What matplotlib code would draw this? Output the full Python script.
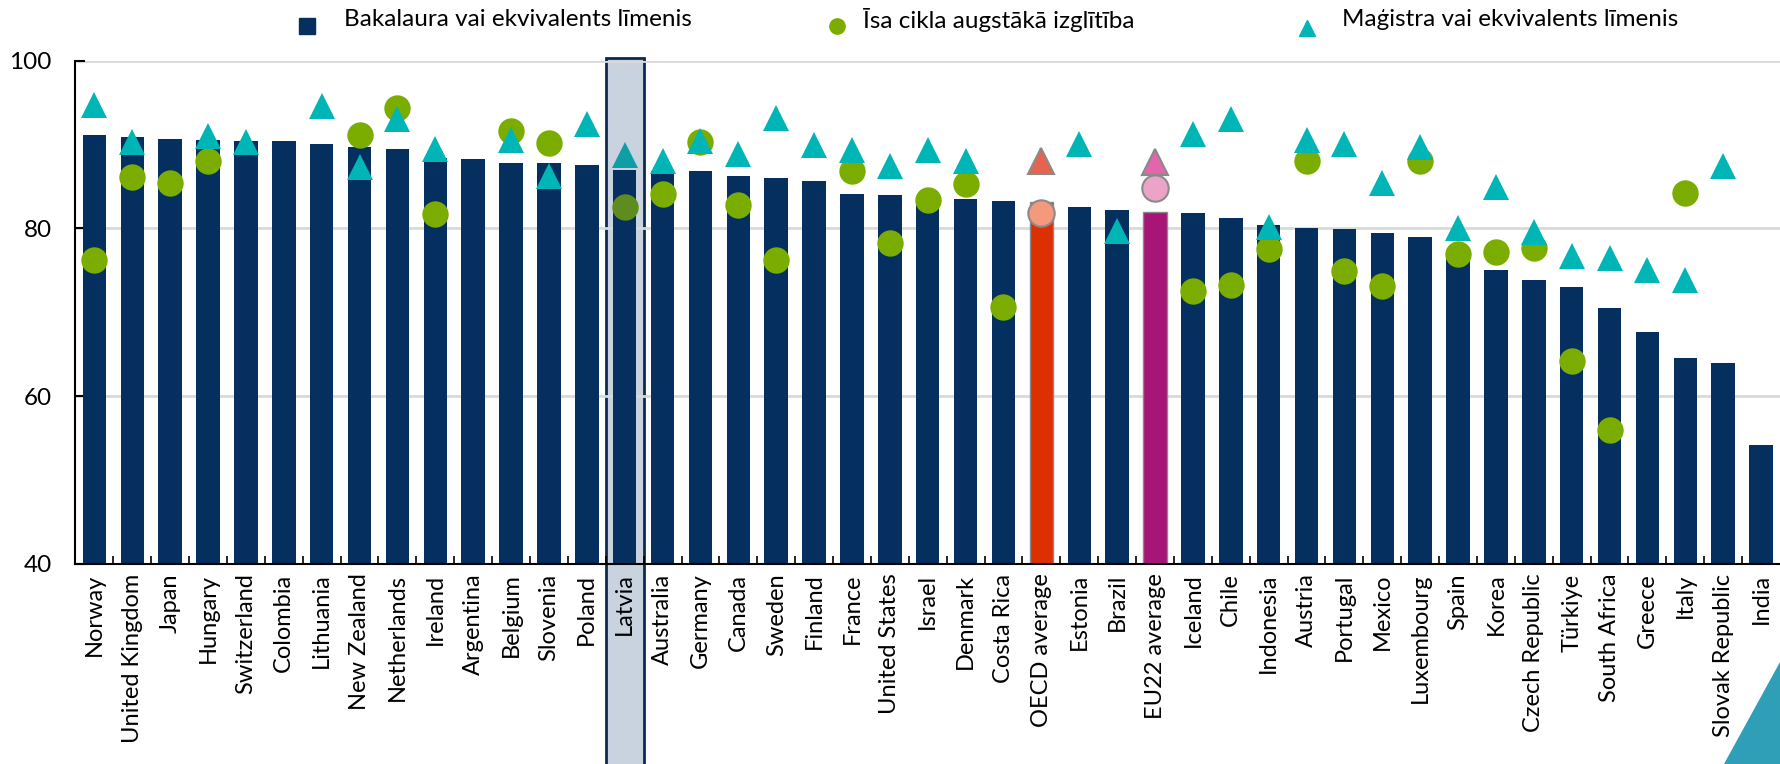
import numpy as np
import matplotlib.pyplot as plt
from matplotlib.lines import Line2D
from matplotlib.patches import Rectangle, Polygon
from matplotlib.transforms import blended_transform_factory

plt.rcParams['font.family'] = ['Lato', 'DejaVu Sans']

countries = ['Norway', 'United Kingdom', 'Japan', 'Hungary', 'Switzerland', 'Colombia',
             'Lithuania', 'New Zealand', 'Netherlands', 'Ireland', 'Argentina', 'Belgium',
             'Slovenia', 'Poland', 'Latvia', 'Australia', 'Germany', 'Canada', 'Sweden',
             'Finland', 'France', 'United States', 'Israel', 'Denmark', 'Costa Rica',
             'OECD average', 'Estonia', 'Brazil', 'EU22 average', 'Iceland', 'Chile',
             'Indonesia', 'Austria', 'Portugal', 'Mexico', 'Luxembourg', 'Spain', 'Korea',
             'Czech Republic', 'Türkiye', 'South Africa', 'Greece', 'Italy',
             'Slovak Republic', 'India']

nan = np.nan
bachelor = [91.1, 90.9, 90.7, 90.5, 90.4, 90.4, 90.1, 89.7, 89.5, 88.4, 88.3, 87.8,
            87.8, 87.6, 87.0, 86.9, 86.8, 86.2, 86.0, 85.6, 84.1, 84.0, 83.8, 83.5, 83.3,
            83.2, 82.5, 82.2, 82.0, 81.9, 81.2, 80.4, 80.1, 79.9, 79.4, 79.0, 77.2, 75.1,
            73.9, 73.0, 70.5, 67.6, 64.5, 63.9, 54.2]
short_cycle = [76.2, 86.1, 85.4, 88.1, nan, nan, nan, 91.1, 94.4, 81.7, nan, 91.6,
               90.2, nan, 82.5, 84.1, 90.3, 82.8, 76.2, nan, 86.8, 78.3, 83.4, 85.3, 70.6,
               81.9, nan, nan, 84.8, 72.5, 73.2, 77.5, 88.0, 74.9, 73.1, 88.0, 76.9, 77.2,
               77.7, 64.2, 56.0, nan, 84.2, nan, nan]
master = [94.7, 90.3, nan, 91.0, 90.3, nan, 94.6, 87.3, 93.1, 89.5, nan, 90.5,
          86.2, 92.5, 88.7, 88.0, 90.4, 88.9, 93.2, 89.9, 89.3, 87.5, 89.3, 88.0, nan,
          88.0, 90.1, 79.7, 87.9, 91.3, 93.0, 80.2, 90.5, 90.1, 85.4, 89.7, 80.0, 84.9,
          79.6, 76.7, 76.5, 75.0, 73.9, 87.5, nan]

legend_labels = ['Bakalaura vai ekvivalents līmenis', 'Īsa cikla augstākā izglītība',
                 'Maģistra vai ekvivalents līmenis']

navy = '#042f5f'
green = '#7aad00'
teal = '#00b5b5'

x = np.arange(len(countries))
bar_col = [navy] * len(countries)
circ_col = [green] * len(countries)
tri_col = [teal] * len(countries)
i_oecd = countries.index('OECD average')
i_eu = countries.index('EU22 average')
i_lv = countries.index('Latvia')
bar_col[i_oecd], circ_col[i_oecd], tri_col[i_oecd] = '#dc2f02', '#f4997b', '#e5634f'
bar_col[i_eu], circ_col[i_eu], tri_col[i_eu] = '#a71677', '#eba4c8', '#e266ac'
circ_col[i_lv], tri_col[i_lv] = '#5e8c1e', '#0f9ea4'

fig = plt.figure(figsize=(17.8, 7.64), dpi=100)
ax = fig.add_axes([0.0424, 0.262, 0.9576, 0.6585])

# Latvia highlight box, from the 100 line to the bottom of the figure
tr = blended_transform_factory(ax.transData, fig.transFigure)
ax.add_patch(Rectangle((i_lv - 0.5, -0.01), 1.0, 1 - 58 / 764 + 0.01, transform=tr,
                       facecolor='#c8d3df', edgecolor='#0b2a4f', lw=2, clip_on=False, zorder=0.3))

for i in x:
    ec = '#8a8a8a' if i in (i_oecd, i_eu) else 'none'
    ax.bar(i, bachelor[i], width=0.62, color=bar_col[i], edgecolor=ec, lw=1, zorder=2)
for i in x:
    ec = '#8a8a8a' if i in (i_oecd, i_eu) else 'none'
    if not np.isnan(short_cycle[i]):
        ax.plot(i, short_cycle[i], 'o', ms=19, color=circ_col[i], mec=ec, mew=1.5, zorder=3)
for i in x:
    ec = '#8a8a8a' if i in (i_oecd, i_eu) else 'none'
    if not np.isnan(master[i]):
        ax.plot(i, master[i], '^', ms=18.5, color=tri_col[i], mec=ec, mew=1.5, zorder=4)

ax.set_xlim(-0.5, len(countries) - 0.5)
ax.set_ylim(40, 100)
ax.set_yticks([40, 60, 80, 100])
ax.yaxis.grid(True, color='#d9d9d9', lw=2)
ax.set_axisbelow(True)
ax.set_xticks(x)
ax.set_xticklabels(countries, rotation=90, fontsize=17)
ax.set_xticks(x[:-1] + 0.5, minor=True)
ax.tick_params(axis='x', which='major', length=0, pad=7)
ax.tick_params(axis='x', which='minor', direction='in', length=6, width=1.2, color='black')
ax.tick_params(axis='y', direction='in', length=7, width=1.5, labelsize=17.5, pad=17)
for s in ['top', 'right']:
    ax.spines[s].set_visible(False)
for s in ['left', 'bottom']:
    ax.spines[s].set_linewidth(1.5)
    ax.spines[s].set_color('black')
ax.set_zorder(1)

# legend across the top
ly = 1 - 26 / 764
ty = 1 - 20 / 764
fig.add_artist(Line2D([307 / 1780], [ly], marker='s', ms=11, color=navy, ls='none',
                      transform=fig.transFigure))
fig.add_artist(Line2D([837 / 1780], [ly], marker='o', ms=11, color=green, ls='none',
                      transform=fig.transFigure))
fig.add_artist(Line2D([1307 / 1780], [ly - 0.002], marker='^', ms=12, color=teal, ls='none',
                      transform=fig.transFigure))
for xp, lab in zip([344, 863, 1342], legend_labels):
    fig.text(xp / 1780, ty, lab, fontsize=17.5, va='center', ha='left')

# corner decoration
fig.add_artist(Polygon([[1724 / 1780, 0], [1.0, 1 - 662 / 764], [1.0, 0]], closed=True,
                       transform=fig.transFigure, color='#2f9fb8', lw=0))

fig.savefig('out.png', dpi=100)
